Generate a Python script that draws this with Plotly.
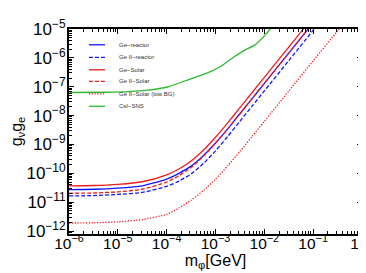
import plotly.graph_objects as go

# log10 of mass grid [GeV]
log_m = [-6, -5.5, -5, -4.5, -4, -3.75, -3.5, -3.25, -3, -2.75, -2.5, -2.25, -2, -1.5, -1, -0.5, -0.25]

# log10 of g_nu g_e for each curve
ge_reactor = [-10.56, -10.55, -10.51, -10.43, -10.2, -10.0, -9.75, -9.39, -8.95, -8.46, -7.935, -7.41, -6.885, -5.835, -4.785, -3.735, -3.21]
ge2_reactor = [-10.78, -10.77, -10.73, -10.66, -10.45, -10.27, -10.02, -9.66, -9.22, -8.72, -8.195, -7.67, -7.145, -6.095, -5.045, -3.995, -3.47]
ge_solar = [-10.43, -10.42, -10.38, -10.29, -10.05, -9.85, -9.575, -9.2, -8.75, -8.25, -7.725, -7.2, -6.675, -5.625, -4.575, -3.525, -3.0]
ge2_solar = [-10.69, -10.68, -10.64, -10.55, -10.3, -10.08, -9.8, -9.41, -8.95, -8.46, -7.935, -7.41, -6.885, -5.835, -4.785, -3.735, -3.21]
ge2_solar_lowbg = [-11.72, -11.71, -11.68, -11.6, -11.42, -11.2, -10.93, -10.6, -10.2, -9.74, -9.24, -8.72, -8.2, -7.15, -6.1, -5.07, -4.55]

log_m_csi = [-6, -5.2, -4.79, -4.38, -3.97, -3.56, -3.15, -2.88, -2.67, -2.40, -2.19, -1.99, -1.88, -1.75]
csi_sns = [-7.2, -7.19, -7.17, -7.12, -7.0, -6.76, -6.51, -6.28, -6.02, -5.73, -5.55, -5.22, -5.0, -4.7]

names = ["Ge\u2212reactor", "Ge II\u2212reactor", "Ge\u2212Solar", "Ge II\u2212Solar",
         "Ge II\u2212Solar (low BG)", "CsI\u2212SNS"]
colors = ["#1414ff", "#1414ff", "#ee1c1c", "#ee1c1c", "#ee1c1c", "#2eb82e"]
dashes = ["solid", "4px,2px", "solid", "4px,2px", "1.3px,1.5px", "solid"]

x_tick_exp = [-6, -5, -4, -3, -2, -1, 0]
y_tick_exp = [-12, -11, -10, -9, -8, -7, -6, -5]

series = [(log_m, ge_reactor), (log_m, ge2_reactor), (log_m, ge_solar),
          (log_m, ge2_solar), (log_m, ge2_solar_lowbg), (log_m_csi, csi_sns)]

fig = go.Figure()
for (lx, ly), nm, c, d in zip(series, names, colors, dashes):
    fig.add_trace(go.Scatter(
        x=[10 ** v for v in lx], y=[10 ** v for v in ly], mode="lines", name=nm,
        line=dict(color=c, width=1.3, dash=d, shape="spline", smoothing=0.6),
        showlegend=False))

def sup(e):
    return "10<sup>" + ("\u2212" + str(-e) if e < 0 else str(e)) + "</sup>"

FONT = "Liberation Sans, Arial"
axis_common = dict(
    type="log", showgrid=False, zeroline=False, showline=True, linecolor="black",
    linewidth=2, mirror="allticks", ticks="inside", ticklen=5, tickwidth=1.2,
    automargin=False, ticklabeloverflow="allow", tickcolor="black",
    minor=dict(ticks="inside", ticklen=3, tickwidth=1, tickcolor="black", dtick="D1", showgrid=False),
)

fig.update_xaxes(range=[-6, 0], tickvals=[10 ** e for e in x_tick_exp],
                 ticktext=[sup(e) for e in x_tick_exp], ticklabelstandoff=-6,
                 tickfont=dict(family=FONT, size=15.5, color="black"),
                 title=dict(text="m<sub>\u03c6</sub>[GeV]", standoff=0,
                            font=dict(family=FONT, size=16, color="black")),
                 **axis_common)
fig.update_yaxes(range=[-12.1, -5], tickvals=[10 ** e for e in y_tick_exp],
                 ticktext=[sup(e) for e in y_tick_exp], ticklabelstandoff=-2,
                 tickfont=dict(family=FONT, size=17, color="black"),
                 title=dict(text="g<sub>\u03bd</sub>g<sub>e</sub>", standoff=4,
                            font=dict(family=FONT, size=16, color="black")),
                 **axis_common)

# legend drawn manually
row_y = [0.923, 0.862, 0.801, 0.745, 0.684, 0.623]
for i, nm in enumerate(names):
    fig.add_shape(type="line", xref="paper", yref="paper", x0=0.068, x1=0.123,
                  y0=row_y[i], y1=row_y[i],
                  line=dict(color=colors[i], width=1.3, dash=dashes[i]))
    fig.add_annotation(x=0.164, y=row_y[i], xref="paper", yref="paper", text=nm,
                       showarrow=False, xanchor="left", yanchor="middle",
                       font=dict(family=FONT, size=6, color="#333333"))

fig.update_layout(width=366, height=273, margin=dict(l=61, r=12, t=21, b=47, autoexpand=False),
                  paper_bgcolor="white", plot_bgcolor="white", showlegend=False)

fig.write_html("out.html")
